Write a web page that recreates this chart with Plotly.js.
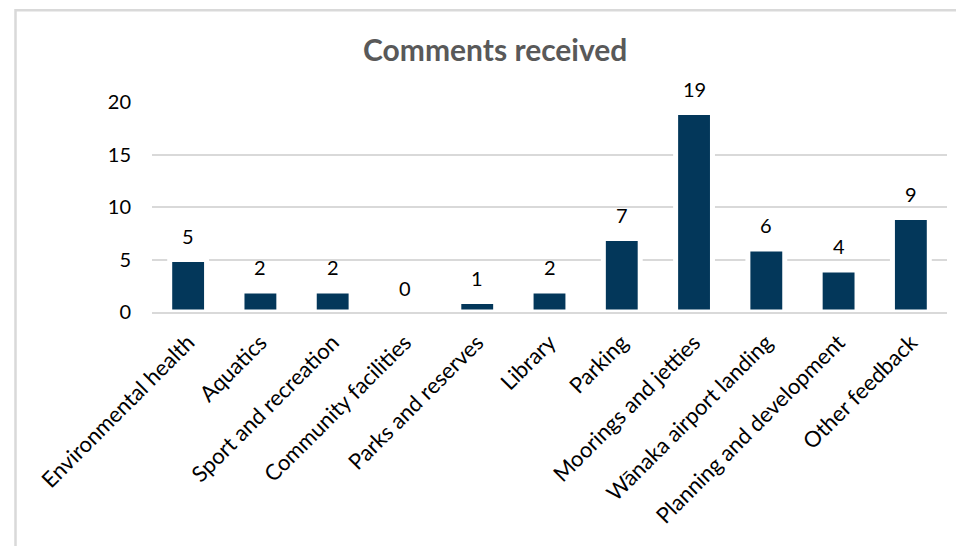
<!DOCTYPE html>
<html>
<head>
<meta charset="utf-8">
<script src="https://cdn.plot.ly/plotly-3.0.1.min.js"></script>
<style>
html,body{margin:0;padding:0;background:#fff;}
#chart{width:956px;height:546px;}
</style>
</head>
<body>
<div id="chart"></div>
<script>
const categories = ["Environmental health","Aquatics","Sport and recreation","Community facilities","Parks and reserves","Library","Parking","Moorings and jetties","Wānaka airport landing","Planning and development","Other feedback"];
const comments = [5,2,2,0,1,2,7,19,6,4,9];
const yTicks = [0,5,10,15,20];
const chartTitle = "Comments received";

const W = 956, H = 546;
const L = 152, R = 9, T = 101.5, B = 234;
const plotW = W - L - R, plotH = H - T - B;

const trace = {
  type: 'bar',
  x: categories,
  y: comments,
  width: 0.51,
  marker: {color: '#03375A', line: {color: '#ffffff', width: 5}},
  hoverinfo: 'none'
};

const annotations = categories.map((c, i) => ({
  x: c, y: comments[i], xref: 'x', yref: 'y',
  text: String(comments[i]), showarrow: false,
  yanchor: 'middle', yshift: 24,
  font: {family: 'Lato, sans-serif', size: 20, color: '#000000'}
}));

const layout = {
  width: W, height: H,
  margin: {l: L, r: R, t: T, b: B, pad: 0},
  paper_bgcolor: '#ffffff', plot_bgcolor: '#ffffff',
  showlegend: false,
  bargap: 0,
  title: {
    text: '<b>' + chartTitle + '</b>',
    font: {family: 'Lato, sans-serif', size: 30, color: '#595959'},
    xref: 'container', x: 0.518, xanchor: 'center',
    yref: 'container', y: 1 - 50/546, yanchor: 'middle'
  },
  xaxis: {
    type: 'category',
    tickangle: -45,
    showgrid: false,
    showline: true, linecolor: '#D9D9D9', linewidth: 2,
    layer: 'above traces',
    ticks: '', ticklabelstandoff: 7,
    tickfont: {family: 'Lato, sans-serif', size: 22, color: '#000000'},
    automargin: false
  },
  yaxis: {
    range: [0, 20],
    tickvals: yTicks,
    showgrid: true, gridcolor: '#D9D9D9', gridwidth: 2,
    zeroline: false, showline: false,
    ticks: '', ticklabelstandoff: 20,
    tickfont: {family: 'Lato, sans-serif', size: 20, color: '#000000'},
    automargin: false
  },
  annotations: annotations,
  shapes: [{
    type: 'rect', xref: 'paper', yref: 'paper',
    x0: (15.5 - L) / plotW, x1: 1.2,
    y0: -2, y1: (H - B - 9.5) / plotH,
    line: {color: '#D9D9D9', width: 2.5},
    fillcolor: 'rgba(0,0,0,0)', layer: 'below'
  }]
};

Plotly.newPlot('chart', [trace], layout, {displayModeBar: false, staticPlot: true});
</script>
</body>
</html>
